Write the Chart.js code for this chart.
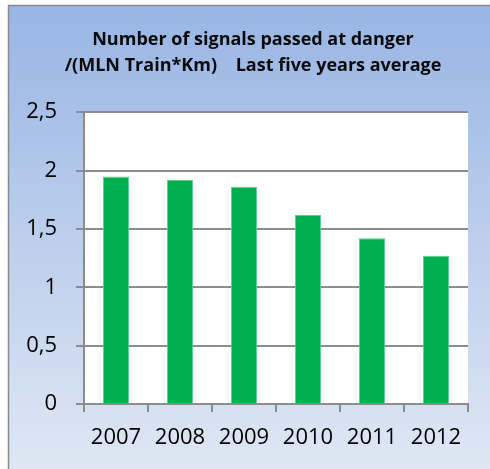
<!DOCTYPE html>
<html>
<head>
<meta charset="utf-8">
<script src="https://cdn.jsdelivr.net/npm/chart.js@4"></script>
<style>
  html, body { margin: 0; padding: 0; background: #ffffff; }
  #wrap { width: 490px; height: 469px; }
</style>
</head>
<body>
<div id="wrap"><canvas id="chartSpad" width="490" height="469"></canvas></div>
<script>
// Signals passed at danger per million train-km, five-year rolling average.
var years = ['2007', '2008', '2009', '2010', '2011', '2012'];
var spadRate = [1.95, 1.92, 1.86, 1.62, 1.42, 1.27];
var yTickLabels = ['0', '0,5', '1', '1,5', '2', '2,5'];
var titleLines = [
  'Number of signals passed at danger',
  '/(MLN Train*Km)    Last five years average'
];

var BAR_COLOR = '#00b050';
var BAR_EDGE = '#5ccf8c';
var GRID_COLOR = '#8c8c8c';
var TEXT_COLOR = '#000000';
var FONT = "'Open Sans', 'Liberation Sans', sans-serif";

// Blue gradient panel with a grey frame, white plot area on top of it.
var framePlugin = {
  id: 'frame',
  beforeDraw: function (chart) {
    var ctx = chart.ctx;
    var area = chart.chartArea;
    ctx.save();
    var g = ctx.createLinearGradient(0, 5, 0, chart.height);
    g.addColorStop(0, '#98b5e4');
    g.addColorStop(1, '#dfe7f4');
    ctx.fillStyle = g;
    ctx.fillRect(8, 5, chart.width, chart.height);
    ctx.strokeStyle = '#8a8a8a';
    ctx.lineWidth = 1.5;
    ctx.strokeRect(8.5, 5.5, chart.width + 10, chart.height + 10);
    ctx.fillStyle = '#ffffff';
    ctx.fillRect(area.left, area.top, area.right - area.left, area.bottom - area.top);
    ctx.restore();
  }
};

new Chart(document.getElementById('chartSpad'), {
  type: 'bar',
  data: {
    labels: years,
    datasets: [
      {
        label: 'SPAD',
        data: spadRate,
        backgroundColor: BAR_COLOR,
        borderColor: BAR_EDGE,
        borderWidth: 1,
        categoryPercentage: 1,
        barPercentage: 0.41
      }
    ]
  },
  options: {
    responsive: false,
    animation: false,
    devicePixelRatio: 1,
    // title box spans 16..490 so it sits centred on the framed panel
    layout: { padding: { left: 16, right: 0, top: 0, bottom: 0 } },
    plugins: {
      legend: { display: false },
      tooltip: { enabled: false },
      title: {
        display: true,
        text: titleLines,
        color: '#0a0a0a',
        font: { family: FONT, size: 18, weight: 'bold', lineHeight: 1.45 },
        padding: { top: 27, bottom: 33 }
      }
    },
    scales: {
      x: {
        offset: true,
        grid: {
          offset: true,
          drawOnChartArea: false,
          drawTicks: true,
          tickLength: 8,
          color: GRID_COLOR,
          lineWidth: 2
        },
        border: { display: true, color: GRID_COLOR, width: 2 },
        ticks: {
          color: TEXT_COLOR,
          padding: 13,
          maxRotation: 0,
          font: { family: FONT, size: 22 }
        },
        afterFit: function (scale) { scale.height = 65; }
      },
      y: {
        min: 0,
        max: 2.5,
        grid: {
          color: GRID_COLOR,
          lineWidth: 2,
          drawTicks: true,
          tickLength: 8
        },
        border: { display: true, color: GRID_COLOR, width: 2 },
        ticks: {
          stepSize: 0.5,
          color: TEXT_COLOR,
          padding: 19,
          font: { family: FONT, size: 22 },
          callback: function (value, index) { return yTickLabels[index]; }
        },
        afterFit: function (scale) { scale.width = 68; }
      },
      // empty right-hand axis, only reserves the margin right of the plot
      yRight: {
        type: 'linear',
        position: 'right',
        grid: { display: false },
        border: { display: false },
        ticks: { display: false },
        afterFit: function (scale) { scale.width = 22; }
      }
    }
  },
  plugins: [framePlugin]
});
</script>
</body>
</html>
